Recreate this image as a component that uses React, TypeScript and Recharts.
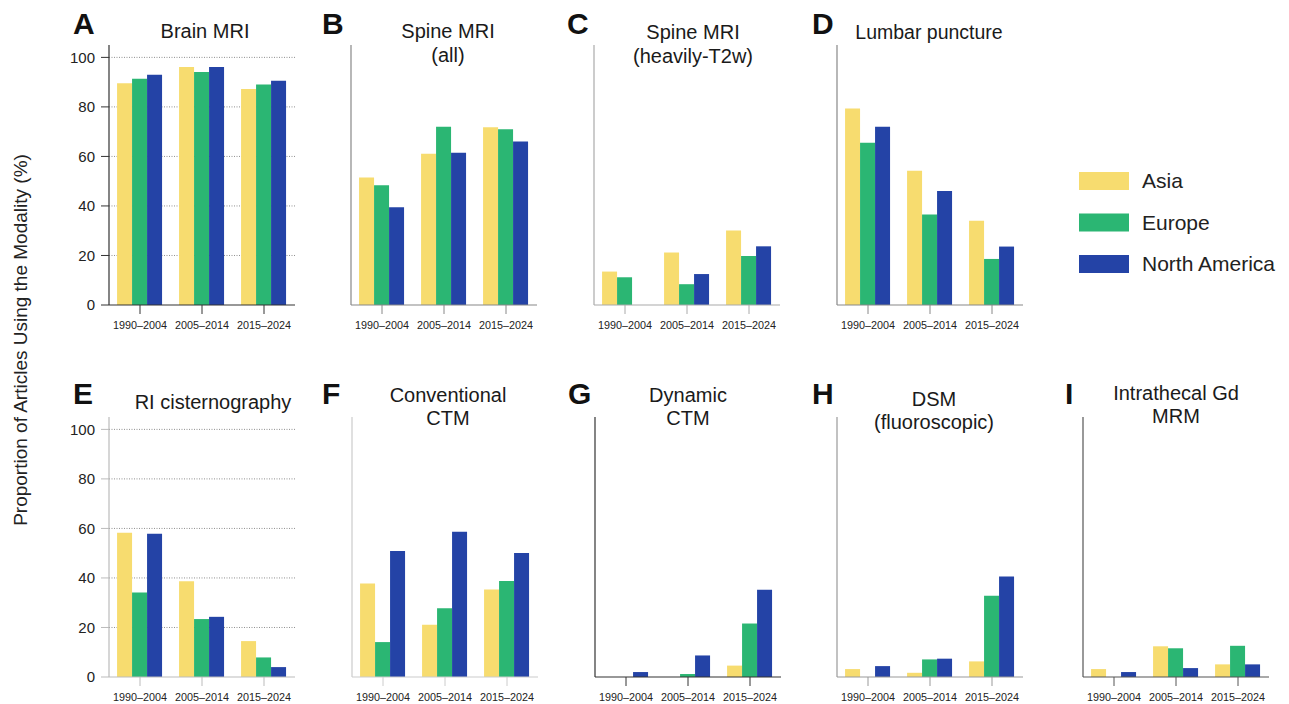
import { Bar, BarChart, CartesianGrid, XAxis, YAxis } from 'recharts';

const periods = ['1990–2004', '2005–2014', '2015–2024'];
const regions = ['Asia', 'Europe', 'North America'];
const yTicks = [0, 20, 40, 60, 80, 100];
const gridValues = [20, 40, 60, 80, 100];

// values per region, one array per period order
const brainMri = { Asia: [89.6, 96.1, 87.2], Europe: [91.4, 94.1, 89.0], 'North America': [93.0, 96.1, 90.6] };
const spineAll = { Asia: [51.5, 61.1, 71.8], Europe: [48.4, 72.0, 71.0], 'North America': [39.5, 61.5, 66.0] };
const spineT2w = { Asia: [13.5, 21.2, 30.1], Europe: [11.2, 8.4, 19.8], 'North America': [0, 12.5, 23.7] };
const lumbarPuncture = { Asia: [79.4, 54.2, 34.0], Europe: [65.5, 36.5, 18.6], 'North America': [72.0, 46.0, 23.6] };
const riCisternography = { Asia: [58.3, 38.7, 14.5], Europe: [34.1, 23.4, 7.9], 'North America': [57.9, 24.3, 4.0] };
const conventionalCtm = { Asia: [37.8, 21.1, 35.3], Europe: [14.1, 27.8, 38.8], 'North America': [50.9, 58.7, 50.1] };
const dynamicCtm = { Asia: [0, 0, 4.6], Europe: [0, 1.2, 21.6], 'North America': [2.0, 8.7, 35.2] };
const dsmFluoro = { Asia: [3.2, 1.7, 6.3], Europe: [0, 7.1, 32.8], 'North America': [4.4, 7.4, 40.6] };
const gdMrm = { Asia: [3.2, 12.4, 5.1], Europe: [0, 11.6, 12.6], 'North America': [2.0, 3.6, 5.1] };

const colors: Record<string, string> = {
  Asia: '#F7DC6F',
  Europe: '#2BB673',
  'North America': '#2443A6',
};

const FONT = '"Liberation Sans", Arial, Helvetica, sans-serif';
const Y_W = 50;
const PLOT_W = 186;
const PLOT_H = 260;
const X_H = 30;

type PanelCfg = {
  letter: string;
  title: string[];
  values: Record<string, number[]>;
  plotLeft: number;
  top: number;
  axis: string;
  yLabels?: boolean;
  cx: number;
  titleTop: number;
  titleSize?: number;
  pad: number;
};

const panels: PanelCfg[] = [
  { letter: 'A', title: ['Brain MRI'], values: brainMri, plotLeft: 109, top: 45, axis: '#333', yLabels: true, cx: 205, titleTop: 20, pad: 4 },
  { letter: 'B', title: ['Spine MRI', '(all)'], values: spineAll, plotLeft: 351, top: 45, axis: '#888', cx: 448, titleTop: 19, pad: 16 },
  { letter: 'C', title: ['Spine MRI', '(heavily-T2w)'], values: spineT2w, plotLeft: 594, top: 45, axis: '#aaa', cx: 693, titleTop: 20, pad: 3 },
  { letter: 'D', title: ['Lumbar puncture'], values: lumbarPuncture, plotLeft: 837, top: 45, axis: '#888', cx: 929, titleTop: 21, titleSize: 19.5, pad: 4 },
  { letter: 'E', title: ['RI cisternography'], values: riCisternography, plotLeft: 109, top: 417, axis: '#bbb', yLabels: true, cx: 213, titleTop: 391, pad: 4 },
  { letter: 'F', title: ['Conventional', 'CTM'], values: conventionalCtm, plotLeft: 352, top: 417, axis: '#ccc', cx: 448, titleTop: 384, pad: 14 },
  { letter: 'G', title: ['Dynamic', 'CTM'], values: dynamicCtm, plotLeft: 595, top: 417, axis: '#333', cx: 688, titleTop: 384, pad: 14 },
  { letter: 'H', title: ['DSM', '(fluoroscopic)'], values: dsmFluoro, plotLeft: 837, top: 417, axis: '#999', cx: 934, titleTop: 388, pad: 13 },
  { letter: 'I', title: ['Intrathecal Gd', 'MRM'], values: gdMrm, plotLeft: 1083, top: 417, axis: '#555', cx: 1176, titleTop: 382, pad: 15 },
];

const letterPos: Record<string, [number, number]> = {
  A: [73, 34], B: [322, 34], C: [567, 34], D: [812, 34],
  E: [73, 404], F: [322, 404], G: [568, 404], H: [812, 404], I: [1065, 404],
};

function Panel({ cfg }: { cfg: PanelCfg }) {
  const data = periods.map((p, i) => {
    const row: Record<string, string | number> = { period: p };
    regions.forEach((r) => {
      row[r] = cfg.values[r][i];
    });
    return row;
  });
  const lineH = cfg.title.length > 1 ? (cfg.top < 100 ? 24 : 23) : 23;

  return (
    <>
      <div style={{ position: 'absolute', left: cfg.plotLeft - Y_W, top: cfg.top }}>
        <BarChart
          width={Y_W + PLOT_W}
          height={PLOT_H + X_H}
          data={data}
          margin={{ top: 0, right: 0, left: 0, bottom: 0 }}
          barCategoryGap="13%"
          barGap={0}
        >
          <CartesianGrid
            vertical={false}
            horizontalValues={gridValues}
            stroke="#8f8f8f"
            strokeDasharray="1 1.5"
          />
          <XAxis
            dataKey="period"
            height={X_H}
            tickSize={9}
            tickMargin={7}
            axisLine={{ stroke: cfg.axis, strokeWidth: 1.2 }}
            tickLine={{ stroke: cfg.axis }}
            tick={{ fill: '#222', fontSize: 10.8, fontFamily: FONT }}
            interval={0}
          />
          <YAxis
            width={Y_W}
            domain={[0, 105]}
            ticks={yTicks}
            tickSize={8}
            tickMargin={6}
            axisLine={{ stroke: cfg.axis, strokeWidth: 1.2 }}
            tickLine={{ stroke: cfg.axis }}
            tick={cfg.yLabels ? { fill: '#222', fontSize: 15, fontFamily: FONT } : false}
          />
          {regions.map((r) => (
            <Bar key={r} dataKey={r} fill={colors[r]} isAnimationActive={false} />
          ))}
        </BarChart>
      </div>
      <div
        style={{
          position: 'absolute',
          left: cfg.cx,
          top: cfg.titleTop,
          transform: 'translateX(-50%)',
          background: '#fff',
          padding: `0 ${cfg.pad}px`,
          fontFamily: FONT,
          fontSize: cfg.titleSize ?? 20,
          lineHeight: `${lineH}px`,
          color: '#1a1a1a',
          textAlign: 'center',
          whiteSpace: 'nowrap',
        }}
      >
        {cfg.title.map((t) => (
          <div key={t}>{t}</div>
        ))}
      </div>
    </>
  );
}

export default function App() {
  return (
    <div style={{ position: 'absolute', left: 0, top: 0, width: 1289, height: 704, background: '#fff', overflow: 'hidden' }}>
      {panels.map((p) => (
        <Panel key={p.letter} cfg={p} />
      ))}
      <svg width={1289} height={704} style={{ position: 'absolute', left: 0, top: 0, pointerEvents: 'none' }}>
        {panels.map((p) => (
          <text
            key={p.letter}
            x={letterPos[p.letter][0]}
            y={letterPos[p.letter][1]}
            fontFamily={FONT}
            fontSize={30}
            fontWeight="bold"
            fill="#111"
          >
            {p.letter}
          </text>
        ))}
        <text
          x={20}
          y={340}
          transform="rotate(-90, 20, 340)"
          textAnchor="middle"
          dy="0.35em"
          fontFamily={FONT}
          fontSize={19}
          fill="#222"
        >
          Proportion of Articles Using the Modality (%)
        </text>
        {regions.map((r, i) => (
          <g key={r}>
            <rect x={1079} y={172 + i * 41.5} width={50} height={18} fill={colors[r]} />
            <text x={1142} y={188 + i * 41.5} fontFamily={FONT} fontSize={21} fill="#222">
              {r}
            </text>
          </g>
        ))}
      </svg>
    </div>
  );
}
